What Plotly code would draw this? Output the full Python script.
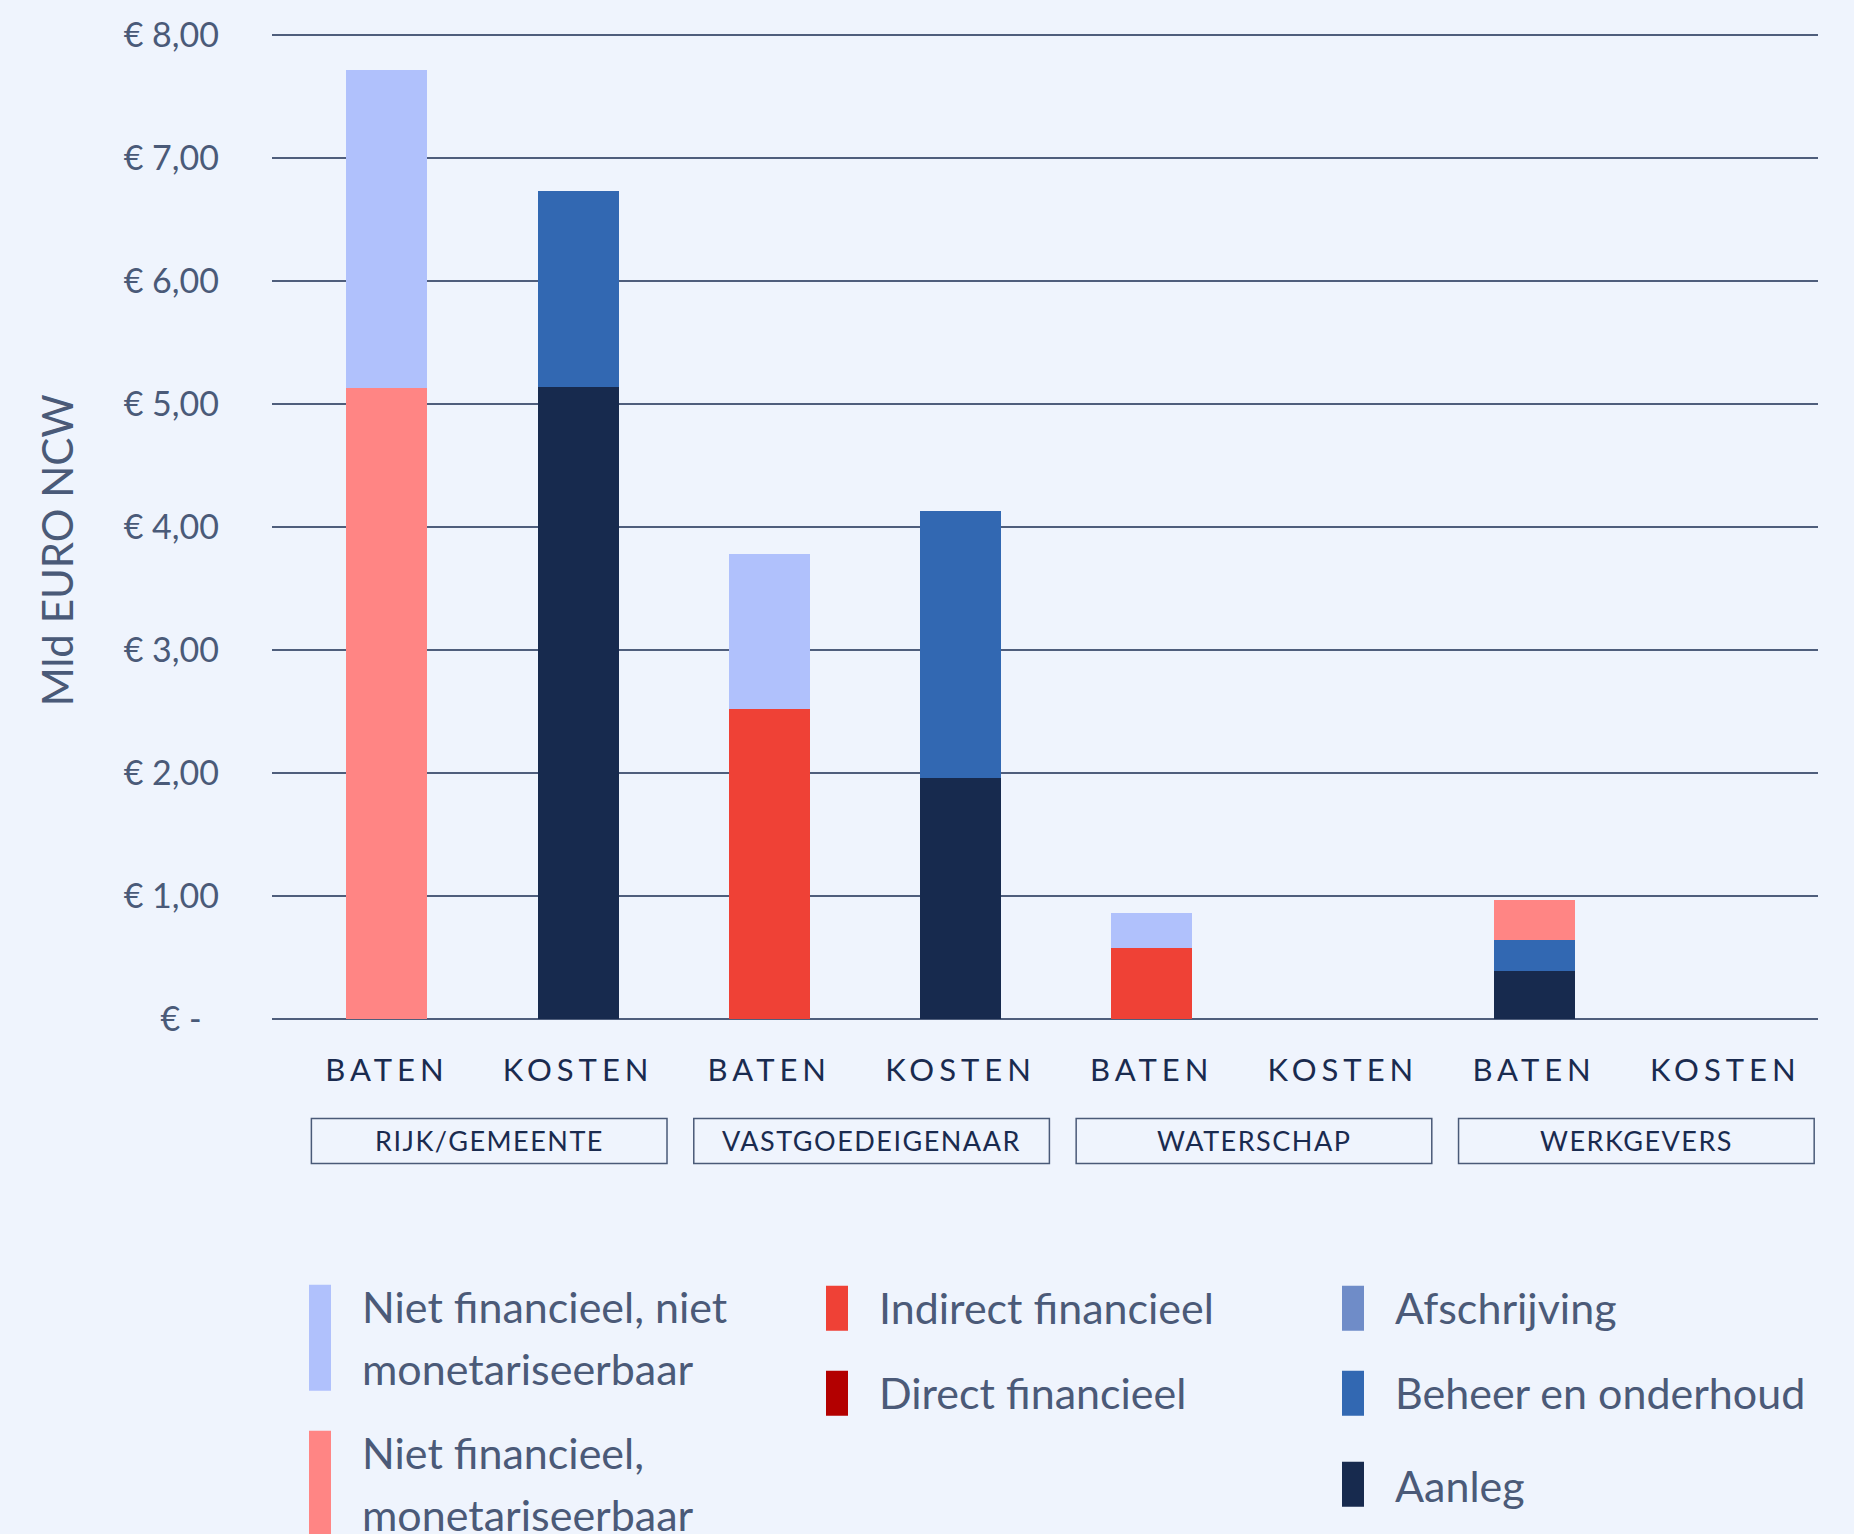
import plotly.graph_objects as go

# ---------------- data ----------------
groups = ["RIJK/GEMEENTE", "VASTGOEDEIGENAAR", "WATERSCHAP", "WERKGEVERS"]
sides = ["BATEN", "KOSTEN"]

# values per bar (order: RG-baten, RG-kosten, VG-baten, VG-kosten, WS-baten, WS-kosten, WG-baten, WG-kosten)
aanleg = [0, 5.14, 0, 1.96, 0, 0, 0.39, 0]
beheer_onderhoud = [0, 1.59, 0, 2.17, 0, 0, 0.255, 0]
afschrijving = [0, 0, 0, 0, 0, 0, 0, 0]
direct_financieel = [0, 0, 0, 0, 0, 0, 0, 0]
indirect_financieel = [0, 0, 2.52, 0, 0.58, 0, 0, 0]
niet_fin_monetariseerbaar = [5.13, 0, 0, 0, 0, 0, 0.325, 0]
niet_fin_niet_monetariseerbaar = [2.59, 0, 1.26, 0, 0.285, 0, 0, 0]

y_tickvals = [0, 1, 2, 3, 4, 5, 6, 7, 8]
y_ticktext = ["€ -\u00a0\u00a0", "€ 1,00", "€ 2,00", "€ 3,00", "€ 4,00", "€ 5,00", "€ 6,00", "€ 7,00", "€ 8,00"]

series_names = ["Aanleg", "Beheer en onderhoud", "Afschrijving", "Direct financieel",
                "Indirect financieel", "Niet financieel, monetariseerbaar",
                "Niet financieel, niet monetariseerbaar"]
series_values = [aanleg, beheer_onderhoud, afschrijving, direct_financieel,
                 indirect_financieel, niet_fin_monetariseerbaar, niet_fin_niet_monetariseerbaar]
series_colors = ["#172a4e", "#3268b2", "#6f8cc8", "#b30000", "#ef4136", "#ff8584", "#b0c1fc"]

# ---------------- style ----------------
BG = "#eff4fd"
AXIS_TXT = "#4a5a78"
DARK_TXT = "#1a2b4f"
FONT = "Lato"
OFF = 0                      # body margin removed by post_script
W, H = 1854, 1534
Y_MAX = 8.05
ZERO_Y = 1019 - OFF          # zero line in figure px
UNIT = 123.04                # px per unit
PL = 272 - OFF
PR = W - (1818 - OFF)
PB = H - ZERO_Y
PT = ZERO_Y - Y_MAX * UNIT
plot_w = W - PL - PR
plot_h = H - PT - PB

def px2paper_x(px):  # px in screen coordinates
    return (px - OFF - PL) / plot_w

def px2paper_y(py):
    return (ZERO_Y - (py - OFF)) / plot_h

x_pos = list(range(len(groups) * len(sides)))
x_labels = [f'<span style="letter-spacing:5px">{s}</span>' for g in groups for s in sides]

fig = go.Figure()
for name, vals, col in zip(series_names, series_values, series_colors):
    fig.add_trace(go.Bar(
        x=x_pos, y=vals, name=name, marker_color=col, marker_line_width=0,
        width=0.424, showlegend=False,
    ))

fig.update_layout(
    barmode="stack",
    width=W, height=H,
    margin=dict(l=PL, r=PR, t=PT, b=PB, autoexpand=False),
    paper_bgcolor=BG, plot_bgcolor=BG,
    font=dict(family=FONT, color=AXIS_TXT),
    xaxis=dict(
        range=[-0.601, 7.485], tickvals=x_pos, ticktext=x_labels,
        showgrid=False, zeroline=False, showline=False, ticks="",
        tickfont=dict(size=31, color=DARK_TXT, family=FONT),
        ticklabelstandoff=30,
    ),
    yaxis=dict(
        range=[0, Y_MAX], tickvals=y_tickvals, ticktext=y_ticktext,
        showgrid=True, gridcolor="#4f5e7c", gridwidth=1.5,
        zeroline=True, zerolinecolor="#4f5e7c", zerolinewidth=1.5,
        showline=False, ticks="",
        tickfont=dict(size=34, color=AXIS_TXT, family=FONT),
        ticklabelstandoff=52,
    ),
)

# y-axis title
fig.add_annotation(
    text="Mld EURO NCW", xref="paper", yref="paper",
    x=px2paper_x(57), y=px2paper_y(550), textangle=-90,
    showarrow=False, xanchor="center", yanchor="middle",
    font=dict(size=42, color=AXIS_TXT, family=FONT),
)

# group boxes with labels
for gi, g in enumerate(groups):
    c = gi * 2 + 0.5 + 0.035
    fig.add_shape(
        type="rect", xref="x", yref="paper",
        x0=c - 0.93, x1=c + 0.93,
        y0=px2paper_y(1163.5), y1=px2paper_y(1118.5),
        line=dict(color="#4a5a78", width=1.5), fillcolor="rgba(0,0,0,0)",
    )
    fig.add_annotation(
        text=f'<span style="letter-spacing:1.5px">{g}</span>', xref="x", yref="paper",
        x=c, y=px2paper_y(1141), showarrow=False,
        xanchor="center", yanchor="middle",
        font=dict(size=27, color=DARK_TXT, family=FONT),
    )

# custom legend (3 columns)
legend_items = [
    # label lines, color, marker x0, marker y0, marker y1, text x, first line center y
    (["Niet financieel, niet", "monetariseerbaar"], series_colors[6], 309, 1285, 1391, 360, 1307),
    (["Niet financieel,", "monetariseerbaar"], series_colors[5], 309, 1431, 1545, 360, 1453),
    (["Indirect financieel"], series_colors[4], 826, 1286, 1331, 877, 1308),
    (["Direct financieel"], series_colors[3], 826, 1371, 1416, 877, 1393),
    (["Afschrijving"], series_colors[2], 1342, 1286, 1331, 1393, 1308),
    (["Beheer en onderhoud"], series_colors[1], 1342, 1371, 1416, 1393, 1393),
    (["Aanleg"], series_colors[0], 1342, 1462, 1507, 1393, 1486),
]
LINE_GAP = 62
for lines, col, mx, my0, my1, tx, ty in legend_items:
    fig.add_shape(
        type="rect", xref="paper", yref="paper",
        x0=px2paper_x(mx), x1=px2paper_x(mx + 22),
        y0=px2paper_y(my1), y1=px2paper_y(my0),
        line=dict(width=0), fillcolor=col,
    )
    for li, line in enumerate(lines):
        fig.add_annotation(
            text=line, xref="paper", yref="paper",
            x=px2paper_x(tx), y=px2paper_y(ty + li * LINE_GAP), showarrow=False,
            xanchor="left", yanchor="middle", align="left",
            font=dict(size=43, color="#4b5a78", family=FONT),
        )

page_js = (
    "document.body.style.margin='0';"
    "document.body.style.overflow='hidden';"
    f"document.body.style.backgroundColor='{BG}';"
    f"document.documentElement.style.backgroundColor='{BG}';"
)
fig.write_html("out.html", post_script=page_js, config={"displayModeBar": False})
